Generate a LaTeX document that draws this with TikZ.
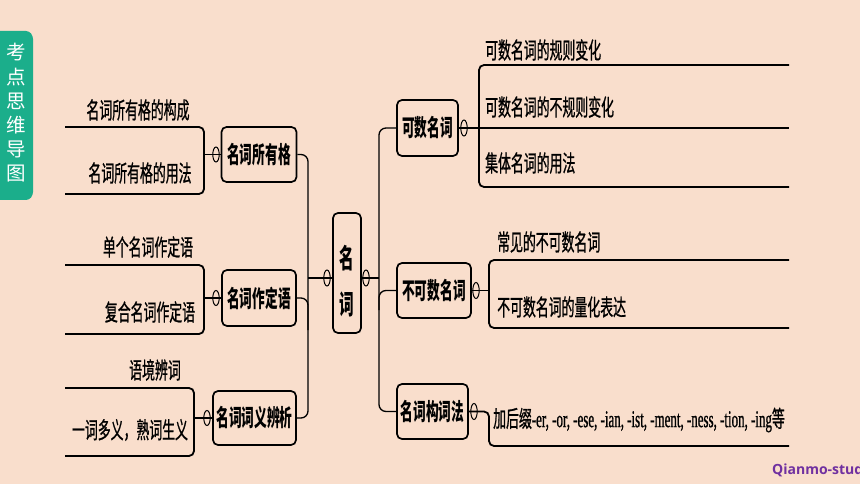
\documentclass[tikz,border=0pt]{standalone}
\usepackage{fontspec}
\newfontfamily\cjk[FakeStretch=0.56,FakeBold=0.8]{Noto Sans CJK SC}
\newfontfamily\cjkb[FakeStretch=0.54]{Noto Sans CJK SC}
\newfontfamily\cjktab{Noto Sans CJK SC}
\newfontfamily\latn[FakeStretch=0.54,FakeBold=0.8]{Liberation Serif}
\newfontfamily\wmfont{Open Sans}
\definecolor{bgpeach}{RGB}{249,222,204}
\definecolor{tabgreen}{RGB}{27,174,139}
\definecolor{wmpurple}{RGB}{112,48,160}
\tikzset{
  boxnode/.style={draw=black, line width=1.7pt, rounded corners=5pt, inner sep=0pt,
    font=\cjkb\bfseries\fontsize{23.5}{23.5}\selectfont},
  leaf/.style={font=\cjk\fontsize{23}{23}\selectfont, inner sep=0pt},
  brk/.style={line width=1.8pt, rounded corners=5pt},
  spine/.style={line width=1.3pt, rounded corners=7pt},
  knob/.style={draw=black, line width=1pt}
}
\begin{document}
\begin{tikzpicture}[x=1pt,y=-1pt]
\fill[bgpeach] (0,0) rectangle (860,484);
\useasboundingbox (0,0) rectangle (860,484);
% side tab
\fill[tabgreen, rounded corners=3pt] (-6,31) -- (29,31) -- (33,36) -- (33,195) -- (29,200) -- (-6,200) -- cycle;
\node[text=white, font=\cjktab\fontsize{19.5}{24.2}\selectfont, align=center, inner sep=0pt] (tab) at (16,113) {考\\点\\思\\维\\导\\图};

% centre node
\node[boxnode, minimum width=28pt, minimum height=120pt] (ctr) at (347,273) {};
\node[font=\cjkb\bfseries\fontsize{27}{46}\selectfont, align=center, inner sep=0pt] (ctrtxt) at (347,281) {名\\词};

% first level
\node[boxnode, minimum width=75pt, minimum height=55pt] (A) at (259,154.5) {名词所有格};
\node[boxnode, minimum width=74pt, minimum height=56pt] (B) at (259,298) {名词作定语};
\node[boxnode, minimum width=83pt, minimum height=54pt] (C) at (254.5,418) {名词词义辨析};
\node[boxnode, minimum width=61pt, minimum height=56pt] (D) at (427.5,128) {可数名词};
\node[boxnode, minimum width=74pt, minimum height=55pt] (E) at (434,290.5) {不可数名词};
\node[boxnode, minimum width=71pt, minimum height=55pt] (F) at (432.5,411.5) {名词构词法};

% junction coordinates
\coordinate (ls) at (308,278);
\coordinate (rs) at (379,278);

% left spine
\draw[spine] (A.east) -- (308,154.5) -- (308,418) -- (C.east);
\draw[spine] (B.east) -- (308,298) -- (308,330);
\draw[line width=1.3pt] (ls) -- (ctr.west |- ls);
% right spine
\draw[spine] (D.west) -- (379,128) -- (379,411.5) -- (F.west);
\draw[spine] (379,310) -- (379,290.5) -- (E.west);
\draw[line width=1.3pt] (ctr.east |- rs) -- (rs);

% left leaves
\coordinate (a0) at (204,154.5);
\draw[brk] (65,127) -- (204,127) -- (204,194) -- (65,194);
\draw[line width=1.5pt] (a0) -- (A.west);
\node[leaf] (a1) at (138,110) {名词所有格的构成};
\node[leaf] (a2) at (140,173) {名词所有格的用法};

\coordinate (b0) at (204,298);
\draw[brk] (65,265) -- (204,265) -- (204,334) -- (65,334);
\draw[line width=1.5pt] (b0) -- (B.west);
\node[leaf] (b1) at (148,247) {单个名词作定语};
\node[leaf] (b2) at (150,312) {复合名词作定语};

\coordinate (c0) at (194,418);
\draw[brk] (65,388) -- (194,388) -- (194,456) -- (65,456);
\draw[line width=1.5pt] (c0) -- (C.west);
\node[leaf] (c1) at (155,370) {语境辨词};
\node[leaf] (c2) at (130,430) {一词多义，熟词生义};

% right leaves
\coordinate (d0) at (789,128);
\draw[brk] (789,65) -- (479,65) -- (479,187) -- (789,187);
\draw[line width=1.8pt] (D.east) -- (d0);
\node[leaf, anchor=west] (d1) at (485,50) {可数名词的规则变化};
\node[leaf, anchor=west] (d2) at (485,107) {可数名词的不规则变化};
\node[leaf, anchor=west] (d3) at (485,163) {集体名词的用法};

\coordinate (e0) at (489,290.5);
\draw[brk] (789,260) -- (489,260) -- (489,328) -- (789,328);
\draw[line width=1.5pt] (E.east) -- (e0);
\node[leaf, anchor=west] (e1) at (497,242) {常见的不可数名词};
\node[leaf, anchor=west] (e2) at (497,307) {不可数名词的量化表达};

\draw[brk] (F.east) -- (489,411.5) -- (489,446) -- (789,446);
\node[leaf, anchor=west] (f1) at (493,420) {加后缀{\latn\fontsize{24}{24}\selectfont -er, -or, -ese, -ian, -ist, -ment, -ness, -tion, -ing}等};

% knobs
\draw[knob] (216,154.5) ellipse [x radius=3.2pt, y radius=7.5pt];
\draw[knob] (216,298) ellipse [x radius=3.2pt, y radius=7.5pt];
\draw[knob] (207,418) ellipse [x radius=3.2pt, y radius=7.5pt];
\draw[knob] (327,278) ellipse [x radius=3.2pt, y radius=8pt];
\draw[knob] (366,278) ellipse [x radius=3.2pt, y radius=8pt];
\draw[knob] (464,128) ellipse [x radius=3.2pt, y radius=8pt];
\draw[knob] (476,290.5) ellipse [x radius=3.2pt, y radius=8pt];
\draw[knob] (474,411.5) ellipse [x radius=3.2pt, y radius=8pt];

% watermark
\node[font=\wmfont\bfseries\fontsize{14}{14}\selectfont, text=wmpurple, anchor=west, inner sep=0pt] (wm) at (772,470) {Qianmo-stud};
\end{tikzpicture}
\end{document}
